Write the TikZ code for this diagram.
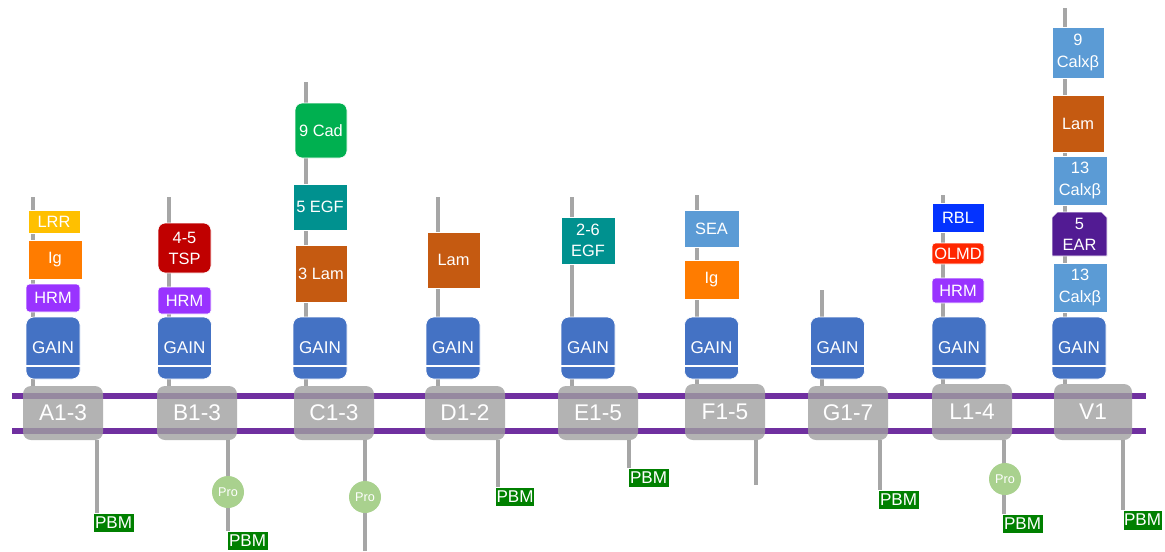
\documentclass[tikz,border=0pt]{standalone}
\usepackage{fontspec}
\setmainfont{Liberation Sans}
\usetikzlibrary{shapes.misc,backgrounds}
\definecolor{stalkc}{HTML}{A6A6A6}
\definecolor{tmc}{HTML}{A0A0A0}
\definecolor{memc}{HTML}{7030A0}
\definecolor{gainc}{HTML}{4472C4}
\definecolor{hrmc}{HTML}{9933FF}
\definecolor{lrrc}{HTML}{FFC000}
\definecolor{igc}{HTML}{FF7C00}
\definecolor{tspc}{HTML}{C00000}
\definecolor{cadc}{HTML}{00B050}
\definecolor{egfc}{HTML}{00918F}
\definecolor{lamc}{HTML}{C55A11}
\definecolor{seac}{HTML}{5B9BD5}
\definecolor{rblc}{HTML}{0433FF}
\definecolor{olmdc}{HTML}{FF2600}
\definecolor{earc}{HTML}{521B93}
\definecolor{pbmc}{HTML}{008000}
\definecolor{proc}{HTML}{A9D18E}
\begin{document}
\begin{tikzpicture}[x=0.75pt,y=-0.75pt,
  stalk/.style={draw=stalkc, line width=3pt},
  mem/.style={draw=memc, line width=4.5pt},
  sz/.style 2 args={minimum width=#1*0.75pt, minimum height=#2*0.75pt},
  dom/.style={rectangle, draw=white, line width=0.5pt, text=white, inner sep=0pt, align=center, font=\fontsize{12.3}{15.8}\selectfont},
  rdom/.style={dom, rounded corners=2.5pt},
  bigr/.style={dom, rounded corners=5.5pt},
  gain/.style={dom, fill=gainc, sz={54}{62}, rounded corners=6pt, font=\fontsize{12.8}{15}\selectfont},
  gapline/.style={draw=white, line width=1.6pt},
  tm/.style={rectangle, fill=tmc, fill opacity=0.8, text opacity=1, text=white, rounded corners=6pt, sz={80}{54}, font=\fontsize{17}{20}\selectfont},
  pbm/.style={rectangle, fill=pbmc, draw=white, line width=0.5pt, text=white, inner sep=0pt, sz={41}{19}, font=\fontsize{12.8}{14}\selectfont},
  pro/.style={circle, fill=proc, text=white, minimum size=24pt, inner sep=0pt, font=\fontsize{9.5}{11}\selectfont}
]
\useasboundingbox (0,0) rectangle (1165,551);
% anchor coordinates for stalks and tails
\coordinate (m1l) at (12,396); \coordinate (m1r) at (1146,396);
\coordinate (m2l) at (12,431); \coordinate (m2r) at (1146,431);
\coordinate (aTop) at (33,197);
\coordinate (bTop) at (169,197);
\coordinate (cTop) at (306,82);
\coordinate (dTop) at (438,197);
\coordinate (eTop) at (572,197);
\coordinate (fTop) at (697,195);
\coordinate (gTop) at (822,290);
\coordinate (lTop) at (943,195);
\coordinate (vTop) at (1065,8);
\coordinate (aTail) at (97,440);
\coordinate (bTail) at (228,440);
\coordinate (cTail) at (365,440);
\coordinate (dTail) at (498,440);
\coordinate (eTail) at (629,440);
\coordinate (fTail) at (756,440);
\coordinate (gTail) at (880,440);
\coordinate (lTail) at (1004,440);
\coordinate (vTail) at (1123,440);
\coordinate (cEnd) at (365,551);
\coordinate (fEnd) at (756,485);
% TM boxes
\node[tm] (tmA) at (63,413) {A1-3};
\node[tm] (tmB) at (197,413) {B1-3};
\node[tm] (tmC) at (334,413) {C1-3};
\node[tm] (tmD) at (465,413) {D1-2};
\node[tm] (tmE) at (598,413) {E1-5};
\node[tm, sz={80}{56}] (tmF) at (725,412) {F1-5};
\node[tm] (tmG) at (848,413) {G1-7};
\node[tm, sz={80}{56}] (tmL) at (972,412) {L1-4};
\node[tm, sz={78}{56}] (tmV) at (1093,412) {V1};
% PBM and Pro
\node[pbm] (aP) at (113.5,522.5) {PBM};
\node[pbm] (bP) at (247.5,541) {PBM};
\node[pbm, sz={39}{19}] (dP) at (515,497) {PBM};
\node[pbm] (eP) at (648.5,478) {PBM};
\node[pbm] (gP) at (898.5,500) {PBM};
\node[pbm] (lP) at (1022.5,524) {PBM};
\node[pbm, sz={39}{20}] (vP) at (1142.5,520) {PBM};
\node[pro] (bPro) at (228,492) {Pro};
\node[pro] (cPro) at (365,497) {Pro};
\node[pro] (lPro) at (1005,479) {Pro};
% GAIN domains
\node[gain] (gA) at (53,348) {GAIN};
\node[gain] (gB) at (184.5,348) {GAIN};
\node[gain] (gC) at (320,348) {GAIN};
\node[gain] (gD) at (453,348) {GAIN};
\node[gain] (gE) at (588,348) {GAIN};
\node[gain] (gF) at (711.5,348) {GAIN};
\node[gain] (gG) at (837.5,348) {GAIN};
\node[gain] (gL) at (959,348) {GAIN};
\node[gain] (gV) at (1079,348) {GAIN};
\foreach \g in {gA,gB,gC,gD,gE,gF,gG,gL,gV}
  \draw[gapline] ([yshift=9.75pt,xshift=-1pt]\g.south west) -- ([yshift=9.75pt,xshift=1pt]\g.south east);
% A
\node[dom, fill=lrrc, sz={52}{23}] (aLRR) at (54,221.5) {LRR};
\node[dom, fill=igc, sz={54}{39}] (aIg) at (55,259.5) {Ig};
\node[rdom, fill=hrmc, sz={54}{28}] (aHRM) at (53,298) {HRM};
% B
\node[bigr, fill=tspc, sz={53}{50}] (bTSP) at (184.5,248) {4-5\\TSP};
\node[rdom, fill=hrmc, sz={53}{27}] (bHRM) at (184.5,300.5) {HRM};
% C
\node[bigr, fill=cadc, sz={52}{55}] (cCad) at (321,130.5) {9 Cad};
\node[dom, fill=egfc, sz={54}{46}] (cEGF) at (320,207) {5 EGF};
\node[dom, fill=lamc, sz={52}{57}] (cLam) at (321,273.5) {3 Lam};
% D
\node[dom, fill=lamc, sz={53}{56}] (dLam) at (453.5,260) {Lam};
% E
\node[dom, fill=egfc, sz={54}{47}] (eEGF) at (588,240.5) {2-6\\EGF};
% F
\node[dom, fill=seac, sz={55}{37}] (fSEA) at (711.5,228.5) {SEA};
\node[dom, fill=igc, sz={55}{39}] (fIg) at (711.5,279.5) {Ig};
% L
\node[dom, fill=rblc, sz={52}{29}] (lRBL) at (958,217.5) {RBL};
\node[rdom, fill=olmdc, sz={52}{21}] (lOLMD) at (958,253.5) {OLMD};
\node[rdom, fill=hrmc, sz={52}{25}] (lHRM) at (958,290.5) {HRM};
% V
\node[dom, fill=seac, sz={52}{51}] (vC9) at (1078,52.5) {9\\Calxβ};
\node[dom, fill=lamc, sz={52}{57}] (vLam) at (1078,123.5) {Lam};
\node[dom, fill=seac, sz={54}{49}] (vC13a) at (1080,180.5) {13\\Calxβ};
\node[dom, fill=earc, sz={55}{44}, chamfered rectangle, chamfered rectangle corners={north west,north east}, chamfered rectangle xsep=2pt, chamfered rectangle ysep=2pt] (vEAR) at (1079.5,234) {5\\EAR};
\node[dom, fill=seac, sz={54}{49}] (vC13b) at (1080,287.5) {13\\Calxβ};
% membrane, stalks and tails behind everything
\begin{pgfonlayer}{background}
\draw[mem] (m1l) -- (m1r);
\draw[mem] (m2l) -- (m2r);
\draw[stalk] (aTop) -- (aTop |- tmA.north);
\draw[stalk] (bTop) -- (bTop |- tmB.north);
\draw[stalk] (cTop) -- (cTop |- tmC.north);
\draw[stalk] (dTop) -- (dTop |- tmD.north);
\draw[stalk] (eTop) -- (eTop |- tmE.north);
\draw[stalk] (fTop) -- (fTop |- tmF.north);
\draw[stalk] (gTop) -- (gTop |- tmG.north);
\draw[stalk] (lTop) -- (lTop |- tmL.north);
\draw[stalk] (vTop) -- (vTop |- tmV.north);
\draw[stalk] (aTail) -- (aTail |- aP.north);
\draw[stalk] (bTail) -- (bTail |- bP.north);
\draw[stalk] (cTail) -- (cEnd);
\draw[stalk] (dTail) -- (dTail |- dP.north);
\draw[stalk] (eTail) -- (eTail |- eP.north);
\draw[stalk] (fTail) -- (fEnd);
\draw[stalk] (gTail) -- (gTail |- gP.north);
\draw[stalk] (lTail) -- (lTail |- lP.north);
\draw[stalk] (vTail) -- (vTail |- vP.north);
\end{pgfonlayer}
\end{tikzpicture}
\end{document}
